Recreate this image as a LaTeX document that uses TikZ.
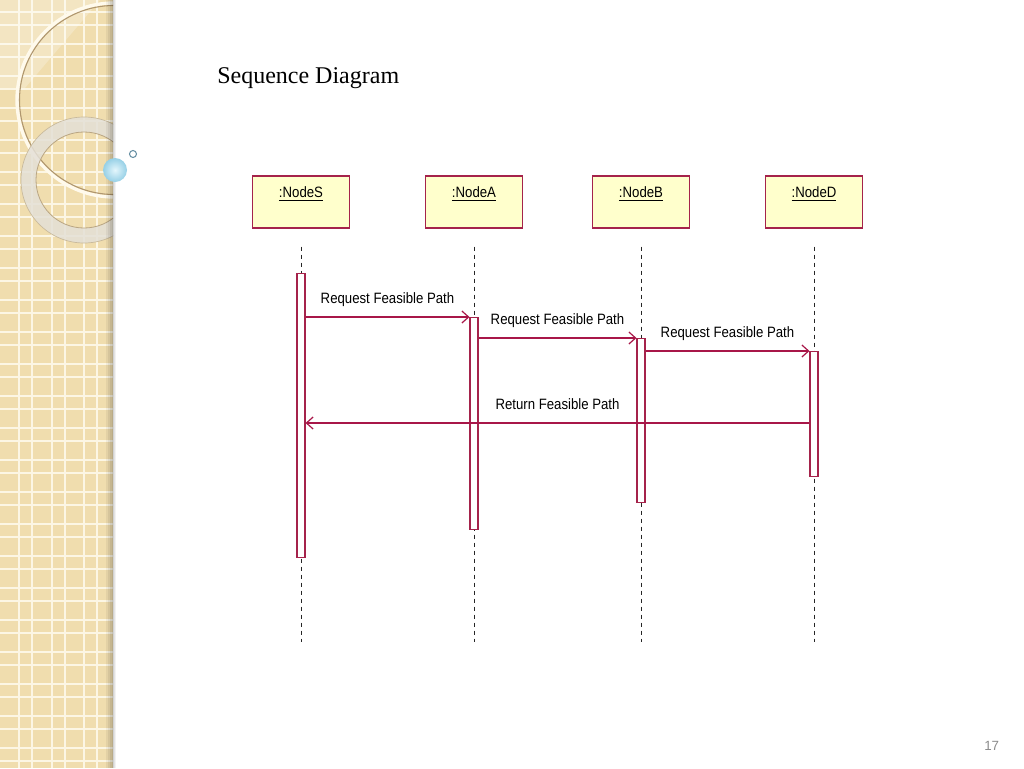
\documentclass[tikz,border=0pt]{standalone}
\usepackage{fontspec}
\usepackage{graphicx}
\setmainfont{Liberation Serif}
\newfontfamily\umlfont{Liberation Sans}
\usetikzlibrary{arrows.meta,calc}
\definecolor{stripe}{RGB}{240,221,174}
\definecolor{gridc}{RGB}{252,246,228}
\definecolor{umlred}{RGB}{168,22,72}
\definecolor{boxred}{RGB}{165,35,75}
\definecolor{objfill}{RGB}{255,255,204}
\definecolor{pagegray}{RGB}{140,140,140}
\tikzset{
  obj/.style={draw=boxred, line width=1.2pt, fill=objfill, inner sep=0pt,
    minimum width=72.75pt, text height=16.5pt, text depth=22.5pt, anchor=north,
    font=\umlfont\fontsize{11.25pt}{13pt}\selectfont},
  actbar/.style={draw=boxred, line width=0.8pt, fill=white, inner sep=0pt,
    minimum width=6pt, anchor=north},
  lifeline/.style={draw=black!85, line width=0.75pt, dash pattern=on 3pt off 3pt},
  msg/.style={draw=umlred, line width=0.9pt, -{Straight Barb[length=5pt,width=9pt]}},
  msglabel/.style={midway, anchor=base, yshift=10pt, inner sep=0pt,
    font=\umlfont\fontsize{11.25pt}{13pt}\selectfont},
}
\newcommand{\cond}[1]{\scalebox{0.88}[1]{#1}}
\begin{document}
\begin{tikzpicture}[x=0.75pt,y=-0.75pt]
\useasboundingbox (0,0) rectangle (1024,768);
\fill[white] (0,0) rectangle (1024,768);
% decorative stripe
\fill[stripe] (0,0) rectangle (113,768);
\foreach \k in {0,...,2} {
  \draw[gridc, line width=1.5pt] ({19+32.5*\k},0) -- ({19+32.5*\k},768);
  \draw[gridc, line width=1.5pt] ({32.3+32.5*\k},0) -- ({32.3+32.5*\k},768);
}
\foreach \k in {0,...,24} {
  \draw[gridc, line width=1.5pt] (0,{12+32*\k}) -- (113,{12+32*\k});
  \draw[gridc, line width=1.5pt] (0,{25+32*\k}) -- (113,{25+32*\k});
}
\begin{scope}
  \clip (0,0) rectangle (113,768);
  \fill[white, opacity=0.25] (0,0) -- (100,0) -- (25,88) -- (0,88) -- cycle;
  \draw[line width=2.5pt, color={rgb,255:red,255;green,250;blue,236}] (114,100) circle[radius=97];
  \draw[line width=0.8pt, color={rgb,255:red,175;green,150;blue,110}] (114,100) circle[radius=94.5];
  \fill[even odd rule, color={rgb,255:red,228;green,224;blue,215}, opacity=0.85]
    (84,180) circle[radius=63] (84,180) circle[radius=48];
  \draw[line width=0.5pt, color={rgb,255:red,200;green,185;blue,155}] (84,180) circle[radius=63];
  \draw[line width=0.6pt, color={rgb,255:red,185;green,165;blue,130}] (84,180) circle[radius=48];
\end{scope}
% soft shadow at the stripe's edge
\fill[black, opacity=0.05] (106,0) rectangle (116,768);
\fill[black, opacity=0.06] (108,0) rectangle (115,768);
\fill[black, opacity=0.07] (110,0) rectangle (114,768);
\fill[black, opacity=0.06] (111.5,0) rectangle (113,768);
% bubbles
\shade[inner color={rgb,255:red,228;green,246;blue,252}, outer color={rgb,255:red,150;green,208;blue,230}] (115,170) circle[radius=12];
\draw[line width=0.8pt, color={rgb,255:red,105;green,145;blue,165}] (133,154) circle[radius=3.5];
% title and page number
\node[anchor=base west, inner sep=0pt, font=\fontsize{18pt}{20pt}\selectfont] (title) at (217,83) {Sequence Diagram};
\node[anchor=base west, inner sep=0pt, text=pagegray, font=\umlfont\fontsize{10pt}{12pt}\selectfont] (pageno) at (984,750) {17};
% objects
\node[obj] (S) at (301,175) {\cond{\underline{:NodeS}}};
\node[obj] (A) at (474,175) {\cond{\underline{:NodeA}}};
\node[obj] (B) at (641,175) {\cond{\underline{:NodeB}}};
\node[obj] (D) at (814,175) {\cond{\underline{:NodeD}}};
% lifelines
\foreach \o in {S,A,B,D} {
  \draw[lifeline] ($(\o.south)+(0,18)$) -- ($(\o.south)+(0,413)$);
}
% activation bars
\node[actbar, minimum height=213pt] (bS) at (301,273) {};
\node[actbar, minimum height=159pt] (bA) at (474,317) {};
\node[actbar, minimum height=123pt] (bB) at (641,338) {};
\node[actbar, minimum height=93.75pt] (bD) at (814,351) {};
% messages
\coordinate (ret) at (0,423);
\draw[msg] (bS.east |- bA.north) -- node[msglabel] {\cond{Request Feasible Path}} (bA.north west);
\draw[msg] (bA.east |- bB.north) -- node[msglabel] {\cond{Request Feasible Path}} (bB.north west);
\draw[msg] (bB.east |- bD.north) -- node[msglabel] {\cond{Request Feasible Path}} (bD.north west);
\draw[msg] (bD.west |- ret) -- node[msglabel] {\cond{Return Feasible Path}} (bS.east |- ret);
\end{tikzpicture}
\end{document}
